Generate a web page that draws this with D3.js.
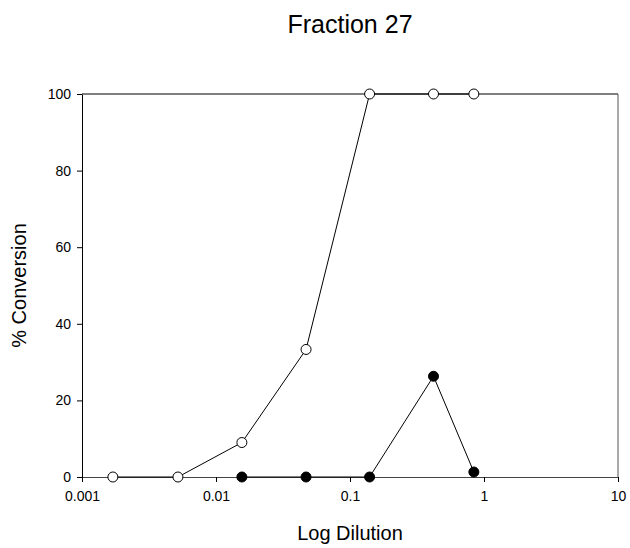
<!DOCTYPE html>
<html>
<head>
<meta charset="utf-8">
<script src="https://cdn.jsdelivr.net/npm/d3@7"></script>
<style>
html,body{margin:0;padding:0;background:#fff;}
svg{display:block;}
text{font-family:"Liberation Sans",Arial,sans-serif;fill:#000;}
</style>
</head>
<body>
<svg id="chart" width="630" height="548"></svg>
<script>
// Data
const openDilution = [0.0017, 0.0052, 0.0156, 0.047, 0.14, 0.42, 0.84];
const openConversion = [0, 0, 9.0, 33.3, 100, 100, 100];
const filledDilution = [0.0156, 0.047, 0.14, 0.42, 0.84];
const filledConversion = [0, 0, 0, 26.3, 1.3];
const xTickValues = [0.001, 0.01, 0.1, 1, 10];
const xTickLabels = ["0.001", "0.01", "0.1", "1", "10"];
const yTickValues = [0, 20, 40, 60, 80, 100];
const titleText = "Fraction 27";
const xLabel = "Log Dilution";
const yLabel = "% Conversion";

const svg = d3.select("#chart");
const mLeft = 82, mRight = 618, mTop = 94, mBottom = 477;

const x = d3.scaleLog().domain([0.001, 10]).range([mLeft, mRight]);
const y = d3.scaleLinear().domain([0, 100]).range([mBottom, mTop]);

// Frame (top and right)
svg.append("line").attr("x1", mLeft).attr("x2", mRight).attr("y1", mTop).attr("y2", mTop)
  .attr("stroke", "#000").attr("stroke-width", 1);
svg.append("line").attr("x1", mRight).attr("x2", mRight).attr("y1", mTop).attr("y2", mBottom)
  .attr("stroke", "#555").attr("stroke-width", 1);

// Axes
const xAxis = d3.axisBottom(x).tickValues(xTickValues)
  .tickFormat((d, i) => xTickLabels[i]).tickSizeInner(5).tickSizeOuter(0).tickPadding(9);
const gx = svg.append("g").attr("transform", `translate(0,${mBottom})`).call(xAxis);
gx.selectAll("text").style("font-size", "14px");
gx.select(".domain").attr("stroke", "#444");

const yAxis = d3.axisLeft(y).tickValues(yTickValues).tickSizeInner(5).tickSizeOuter(0).tickPadding(6);
const gy = svg.append("g").attr("transform", `translate(${mLeft},0)`).call(yAxis);
gy.selectAll("text").style("font-size", "14px");

// Titles
svg.append("text").attr("x", 350).attr("y", 33).attr("text-anchor", "middle")
  .style("font-size", "25px").text(titleText);
svg.append("text").attr("x", 350).attr("y", 540).attr("text-anchor", "middle")
  .style("font-size", "20px").text(xLabel);
svg.append("text").attr("transform", `translate(26,${(mTop + mBottom) / 2}) rotate(-90)`)
  .attr("text-anchor", "middle").style("font-size", "20px").text(yLabel);

const line = d3.line().x(d => x(d[0])).y(d => y(d[1]));

const openPts = openDilution.map((d, i) => [d, openConversion[i]]);
const filledPts = filledDilution.map((d, i) => [d, filledConversion[i]]);

svg.append("path").datum(openPts).attr("d", line).attr("fill", "none")
  .attr("stroke", "#000").attr("stroke-width", 1);
svg.append("path").datum(filledPts).attr("d", line).attr("fill", "none")
  .attr("stroke", "#000").attr("stroke-width", 1);

svg.selectAll("circle.open").data(openPts).enter().append("circle")
  .attr("class", "open").attr("cx", d => x(d[0])).attr("cy", d => y(d[1]))
  .attr("r", 5).attr("fill", "#fff").attr("stroke", "#000").attr("stroke-width", 1);
svg.selectAll("circle.filled").data(filledPts).enter().append("circle")
  .attr("class", "filled").attr("cx", d => x(d[0])).attr("cy", d => y(d[1]))
  .attr("r", 5).attr("fill", "#000").attr("stroke", "#000").attr("stroke-width", 1);
</script>
</body>
</html>
